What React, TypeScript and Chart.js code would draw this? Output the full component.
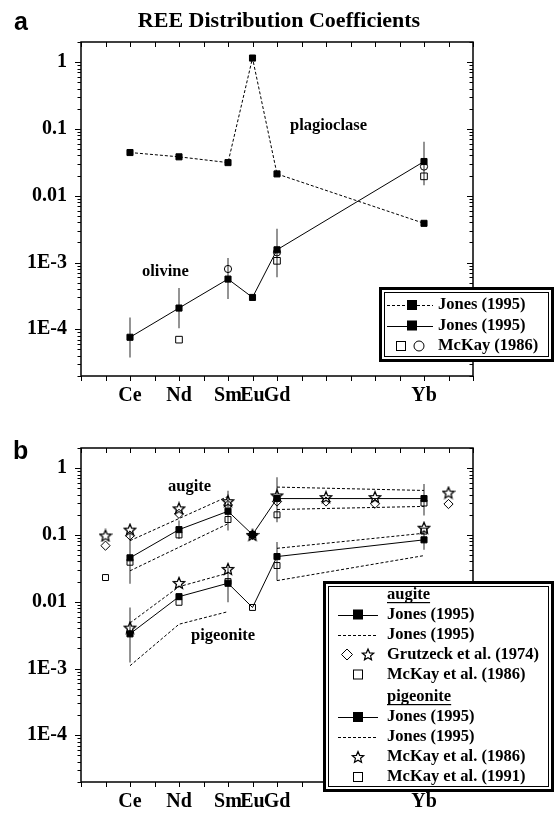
import React, { useEffect, useRef } from 'react';
import { Chart, registerables } from 'chart.js';

Chart.register(...registerables);

// ---- axes ----
// x position = atomic number - 56 (La = 1 ... Lu = 15)
const elementTicks = [2, 4, 6, 7, 8, 14];
const elementLabels = ['Ce', 'Nd', 'Sm', 'Eu', 'Gd', 'Yb'];
const decadeTicks = [1e-4, 1e-3, 1e-2, 1e-1, 1];
const decadeLabels = ['1E-4', '1E-3', '0.01', '0.1', '1'];
const yMin = 2e-5;
const yMax = 2;

// ---- panel a: plagioclase and olivine ----
const plagX = [2, 4, 6, 7, 8, 14];
const plagJones = [0.0443, 0.0382, 0.0313, 1.15, 0.0212, 0.00386];

const olivX = [2, 4, 6, 7, 8, 14];
const olivJones = [7.6e-5, 2.08e-4, 5.65e-4, 3.0e-4, 1.55e-3, 0.0325];
const olivErrLow = [3.8e-5, 1.04e-4, 2.84e-4, null, 6.0e-4, 0.0143];
const olivErrHigh = [1.5e-4, 4.15e-4, 1.17e-3, null, 3.2e-3, 0.064];
const olivMcKaySqX = [4, 8, 14];
const olivMcKaySq = [7.0e-5, 1.06e-3, 0.0195];
const olivMcKayCircX = [6, 8, 14];
const olivMcKayCirc = [8.0e-4, 1.42e-3, 0.0273];

// ---- panel b: augite and pigeonite ----
const augX = [2, 4, 6, 7, 8, 14];
const augJones = [0.0454, 0.12, 0.226, 0.101, 0.35, 0.35];
const augErrLow = [0.0185, 0.087, 0.116, null, 0.155, 0.195];
const augErrHigh = [0.11, 0.165, 0.46, null, 0.73, 0.58];
const augBandX1 = [2, 6];
const augUpper1 = [0.082, 0.377];
const augLower1 = [0.029, 0.147];
const augBandX2 = [8, 14];
const augUpper2 = [0.52, 0.463];
const augLower2 = [0.24, 0.267];
const grutzeckX = [1, 2, 4, 6, 7, 8, 10, 12, 15];
const grutzeckStar = [0.098, 0.12, 0.25, 0.32, 0.1, 0.39, 0.368, 0.368, 0.43];
const grutzeckDiamond = [0.069, 0.098, 0.207, 0.28, 0.1, 0.316, 0.316, 0.293, 0.29];
const augMcKayX = [1, 2, 4, 6, 7, 8, 14];
const augMcKay = [0.023, 0.039, 0.1, 0.17, 0.1, 0.2, 0.3];

const pigX = [2, 4, 6, 7, 8, 14];
const pigJones = [0.0033, 0.0119, 0.0189, 0.0082, 0.0474, 0.0844];
const pigErrLow = [0.00123, null, 0.0098, null, 0.0207, 0.06];
const pigErrHigh = [0.0082, null, 0.033, null, 0.078, 0.115];
const pigBandX1 = [2, 4, 6];
const pigUpper1 = [0.0048, 0.0168, 0.0268];
const pigLower1 = [0.0011, 0.0046, 0.0071];
const pigBandX2 = [8, 14];
const pigUpper2 = [0.063, 0.106];
const pigLower2 = [0.0207, 0.049];
const pigMcKay86X = [2, 4, 6, 14];
const pigMcKay86 = [0.0041, 0.0191, 0.031, 0.128];
const pigMcKay91X = [4, 6, 7, 8, 14];
const pigMcKay91 = [0.0098, 0.02, 0.0082, 0.0348, 0.114];

// ---- styling ----
const SERIF = '"Liberation Serif", "Times New Roman", Times, serif';
const SANS = '"Liberation Sans", Arial, sans-serif';
const W = 554;
const PLOT_LEFT = 81;
const PLOT_RIGHT = 473;
const DASH = [3, 2];

type Pt = { x: number; y: number };
const pts = (xs: number[], ys: (number | null)[]): Pt[] =>
  xs.map((x, i) => ({ x, y: ys[i] as number })).filter((p) => p.y != null);

function starPath(g: CanvasRenderingContext2D, cx: number, cy: number, R: number) {
  const r = R * 0.45;
  g.beginPath();
  for (let i = 0; i < 10; i++) {
    const a = -Math.PI / 2 + (i * Math.PI) / 5;
    const rr = i % 2 ? r : R;
    g.lineTo(cx + rr * Math.cos(a), cy + rr * Math.sin(a));
  }
  g.closePath();
}

function makeStarImage(size: number): HTMLCanvasElement {
  const c = document.createElement('canvas');
  c.width = size;
  c.height = size;
  const g = c.getContext('2d')!;
  g.strokeStyle = '#000';
  g.lineWidth = 1.3;
  starPath(g, size / 2, size / 2 + 0.6, size / 2 - 1);
  g.stroke();
  return c;
}

function lineSet(data: Pt[], opts: any = {}) {
  return {
    type: 'line',
    data,
    borderColor: '#000',
    borderWidth: 1,
    pointBackgroundColor: '#000',
    pointBorderColor: '#000',
    pointBorderWidth: 1,
    pointStyle: 'rect',
    pointRadius: 4.3,
    order: 5,
    clip: false,
    ...opts,
  };
}

function markerSet(data: Pt[], style: any, radius: number, opts: any = {}) {
  return {
    type: 'line',
    data,
    showLine: false,
    pointStyle: style,
    pointRadius: radius,
    pointBackgroundColor: 'rgba(0,0,0,0)',
    pointBorderColor: '#000',
    pointBorderWidth: 1,
    order: 3,
    clip: false,
    ...opts,
  };
}

function errorBars(xs: number[], lo: (number | null)[], hi: (number | null)[]) {
  const out: any[] = [];
  xs.forEach((x, i) => {
    if (lo[i] == null || hi[i] == null) return;
    out.push({
      type: 'line',
      data: [
        { x, y: lo[i] },
        { x, y: hi[i] },
      ],
      borderColor: '#707070',
      borderWidth: 1.5,
      pointRadius: 0,
      order: 20,
      clip: false,
    });
  });
  return out;
}

// frame with tick marks on all four sides
const framePlugin = {
  id: 'frame',
  beforeDatasetsDraw(chart: any) {
    const { ctx, chartArea: a, scales } = chart;
    const xs = scales.x;
    const ys = scales.y;
    ctx.save();
    ctx.strokeStyle = '#000';
    ctx.lineWidth = 1.5;
    ctx.strokeRect(a.left, a.top, a.right - a.left, a.bottom - a.top);
    ctx.lineWidth = 1;
    ctx.beginPath();
    for (let i = 0; i <= 16; i++) {
      const px = Math.round(xs.getPixelForValue(i)) + 0.5;
      ctx.moveTo(px, a.top);
      ctx.lineTo(px, a.top + 5);
      ctx.moveTo(px, a.bottom);
      ctx.lineTo(px, a.bottom + 5);
    }
    for (let k = -5; k <= 0; k++) {
      for (let m = 1; m <= 9; m++) {
        const v = m * Math.pow(10, k);
        if (v < yMin || v > yMax) continue;
        const py = Math.round(ys.getPixelForValue(v)) + 0.5;
        const len = m === 1 ? 6 : 3.5;
        ctx.moveTo(a.left - len, py);
        ctx.lineTo(a.left, py);
        ctx.moveTo(a.right - len, py);
        ctx.lineTo(a.right, py);
      }
    }
    ctx.stroke();
    ctx.restore();
  },
};

function drawSymbol(ctx: CanvasRenderingContext2D, kind: string, x: number, y: number, s: number) {
  ctx.save();
  ctx.strokeStyle = '#000';
  ctx.fillStyle = '#000';
  ctx.lineWidth = 1;
  if (kind === 'fillSq') {
    ctx.fillRect(x - s / 2, y - s / 2, s, s);
  } else if (kind === 'openSq') {
    ctx.strokeRect(x - s / 2 + 0.5, y - s / 2 + 0.5, s - 1, s - 1);
  } else if (kind === 'circle') {
    ctx.beginPath();
    ctx.arc(x, y, s / 2, 0, Math.PI * 2);
    ctx.stroke();
  } else if (kind === 'diamond') {
    ctx.beginPath();
    ctx.moveTo(x - s / 2, y);
    ctx.lineTo(x, y - s / 2);
    ctx.lineTo(x + s / 2, y);
    ctx.lineTo(x, y + s / 2);
    ctx.closePath();
    ctx.stroke();
  } else if (kind === 'star') {
    ctx.lineWidth = 1.2;
    starPath(ctx, x, y + 0.5, s / 2);
    ctx.stroke();
  }
  ctx.restore();
}

function drawLine(ctx: CanvasRenderingContext2D, x1: number, x2: number, y: number, dashed: boolean) {
  ctx.save();
  ctx.strokeStyle = '#000';
  ctx.lineWidth = 1;
  if (dashed) ctx.setLineDash(DASH);
  ctx.beginPath();
  ctx.moveTo(x1, Math.round(y) + 0.5);
  ctx.lineTo(x2, Math.round(y) + 0.5);
  ctx.stroke();
  ctx.restore();
}

function drawLegendBox(ctx: CanvasRenderingContext2D, l: number, t: number, r: number, b: number) {
  ctx.save();
  ctx.fillStyle = '#fff';
  ctx.fillRect(l, t, r - l, b - t);
  ctx.strokeStyle = '#000';
  ctx.lineWidth = 3;
  ctx.strokeRect(l + 1.5, t + 1.5, r - l - 3, b - t - 3);
  ctx.lineWidth = 1;
  ctx.strokeRect(l + 5.5, t + 5.5, r - l - 11, b - t - 11);
  ctx.restore();
}

function text(ctx: CanvasRenderingContext2D, s: string, x: number, y: number, font: string, align: CanvasTextAlign = 'left', baseline: CanvasTextBaseline = 'alphabetic') {
  ctx.save();
  ctx.fillStyle = '#000';
  ctx.font = font;
  ctx.textAlign = align;
  ctx.textBaseline = baseline;
  ctx.fillText(s, x, y);
  ctx.restore();
}

const LEG_FONT = `bold 16.5px ${SERIF}`;
const NOTE_FONT = `bold 16.5px ${SERIF}`;

const decorA = {
  id: 'decorA',
  afterDraw(chart: any) {
    const ctx = chart.ctx as CanvasRenderingContext2D;
    text(ctx, 'REE Distribution Coefficients', 279, 27, `bold 22px ${SERIF}`, 'center');
    text(ctx, 'a', 14, 30, `bold 25px ${SANS}`);
    text(ctx, 'plagioclase', 290, 130, NOTE_FONT);
    text(ctx, 'olivine', 142, 276, NOTE_FONT);

    drawLegendBox(ctx, 379, 287, 554, 362);
    const rows = [305, 325.5, 346];
    drawLine(ctx, 387, 433, rows[0], true);
    drawSymbol(ctx, 'fillSq', 412, rows[0], 10);
    drawLine(ctx, 387, 433, rows[1], false);
    drawSymbol(ctx, 'fillSq', 412, rows[1], 10);
    drawSymbol(ctx, 'openSq', 401, rows[2], 10);
    drawSymbol(ctx, 'circle', 419, rows[2], 10);
    text(ctx, 'Jones (1995)', 438, rows[0], LEG_FONT, 'left', 'middle');
    text(ctx, 'Jones (1995)', 438, rows[1], LEG_FONT, 'left', 'middle');
    text(ctx, 'McKay (1986)', 438, rows[2], LEG_FONT, 'left', 'middle');
  },
};

const OFF_B = 420;
const legendRowsB = [594.5, 614.5, 634.5, 654.5, 674.5, 697, 717, 737, 757, 777];
const decorB = {
  id: 'decorB',
  afterDraw(chart: any) {
    const ctx = chart.ctx as CanvasRenderingContext2D;
    const Y = (y: number) => y - OFF_B;
    const R = legendRowsB.map(Y);
    text(ctx, 'b', 13, Y(459), `bold 25px ${SANS}`);
    text(ctx, 'augite', 168, Y(491), NOTE_FONT);
    text(ctx, 'pigeonite', 191, Y(640), NOTE_FONT);

    drawLegendBox(ctx, 323, Y(581), 554, Y(792));
    const tx = 387;
    const header = (s: string, y: number) => {
      text(ctx, s, tx, y, LEG_FONT, 'left', 'middle');
      ctx.save();
      ctx.font = LEG_FONT;
      const w = ctx.measureText(s).width;
      ctx.fillStyle = '#000';
      ctx.fillRect(tx, Math.round(y) + 7, w, 1.2);
      ctx.restore();
    };
    header('augite', R[0]);
    drawLine(ctx, 338, 378, R[1], false);
    drawSymbol(ctx, 'fillSq', 358, R[1], 10);
    text(ctx, 'Jones (1995)', tx, R[1], LEG_FONT, 'left', 'middle');
    drawLine(ctx, 338, 378, R[2], true);
    text(ctx, 'Jones (1995)', tx, R[2], LEG_FONT, 'left', 'middle');
    drawSymbol(ctx, 'diamond', 347, R[3], 11);
    drawSymbol(ctx, 'star', 368, R[3], 12);
    text(ctx, 'Grutzeck et al. (1974)', tx, R[3], LEG_FONT, 'left', 'middle');
    drawSymbol(ctx, 'openSq', 358, R[4], 10);
    text(ctx, 'McKay et al. (1986)', tx, R[4], LEG_FONT, 'left', 'middle');
    header('pigeonite', R[5]);
    drawLine(ctx, 338, 378, R[6], false);
    drawSymbol(ctx, 'fillSq', 358, R[6], 10);
    text(ctx, 'Jones (1995)', tx, R[6], LEG_FONT, 'left', 'middle');
    drawLine(ctx, 338, 378, R[7], true);
    text(ctx, 'Jones (1995)', tx, R[7], LEG_FONT, 'left', 'middle');
    drawSymbol(ctx, 'star', 358, R[8], 12);
    text(ctx, 'McKay et al. (1986)', tx, R[8], LEG_FONT, 'left', 'middle');
    drawSymbol(ctx, 'openSq', 358, R[9], 10);
    text(ctx, 'McKay et al. (1991)', tx, R[9], LEG_FONT, 'left', 'middle');
  },
};

function baseOptions(canvasH: number, top: number, bottom: number) {
  const tickFont = { family: SERIF, size: 20, weight: 'bold' as const };
  return {
    animation: false,
    responsive: false,
    events: [],
    layout: { padding: { top, right: W - PLOT_RIGHT, left: 0, bottom: 0 } },
    plugins: {
      legend: { display: false },
      tooltip: { enabled: false },
      title: { display: false },
    },
    scales: {
      x: {
        type: 'linear',
        min: 0,
        max: 16,
        position: 'bottom',
        afterFit: (s: any) => {
          s.height = canvasH - bottom;
        },
        afterBuildTicks: (s: any) => {
          s.ticks = elementTicks.map((v) => ({ value: v }));
        },
        ticks: {
          autoSkip: false,
          maxRotation: 0,
          padding: 8,
          color: '#000',
          font: tickFont,
          callback: (v: number) => {
            const i = elementTicks.indexOf(v);
            return i >= 0 ? elementLabels[i] : '';
          },
        },
        grid: { display: false, drawTicks: false },
        border: { display: false },
      },
      y: {
        type: 'logarithmic',
        min: yMin,
        max: yMax,
        position: 'left',
        afterFit: (s: any) => {
          s.width = PLOT_LEFT;
        },
        afterBuildTicks: (s: any) => {
          s.ticks = decadeTicks.map((v) => ({ value: v, major: true }));
        },
        ticks: {
          padding: 14,
          color: '#000',
          font: tickFont,
          callback: (v: number) => {
            const i = decadeTicks.findIndex((d) => Math.abs(d - v) / d < 1e-6);
            return i >= 0 ? decadeLabels[i] : '';
          },
        },
        grid: { display: false, drawTicks: false },
        border: { display: false },
      },
    },
  };
}

function buildA(h: number) {
  const datasets: any[] = [
    lineSet(pts(plagX, plagJones), { borderDash: DASH }),
    lineSet(pts(olivX, olivJones)),
    markerSet(pts(olivMcKaySqX, olivMcKaySq), 'rect', 4.7),
    markerSet(pts(olivMcKayCircX, olivMcKayCirc), 'circle', 3.6),
    ...errorBars(olivX, olivErrLow, olivErrHigh),
  ];
  return {
    type: 'line',
    data: { datasets },
    options: baseOptions(h, 42, 376),
    plugins: [framePlugin, decorA],
  };
}

function buildB(h: number) {
  const star = makeStarImage(14);
  const dashed = (xs: number[], ys: number[]) =>
    lineSet(pts(xs, ys), { borderDash: DASH, pointRadius: 0, order: 8 });
  const datasets: any[] = [
    lineSet(pts(augX, augJones)),
    lineSet(pts(pigX, pigJones), { pointRadius: pigX.map((x) => (x === 7 ? 0 : 4.3)) }),
    dashed(augBandX1, augUpper1),
    dashed(augBandX1, augLower1),
    dashed(augBandX2, augUpper2),
    dashed(augBandX2, augLower2),
    dashed(pigBandX1, pigUpper1),
    dashed(pigBandX1, pigLower1),
    dashed(pigBandX2, pigUpper2),
    dashed(pigBandX2, pigLower2),
    markerSet(pts(grutzeckX, grutzeckStar), star, 6),
    markerSet(pts(grutzeckX, grutzeckDiamond), 'rectRot', 4.6),
    markerSet(pts(augMcKayX, augMcKay), 'rect', 4.2),
    markerSet(pts(pigMcKay86X, pigMcKay86), star, 6),
    markerSet(pts(pigMcKay91X, pigMcKay91), 'rect', 4.2),
    ...errorBars(augX, augErrLow, augErrHigh),
    ...errorBars(pigX, pigErrLow, pigErrHigh),
  ];
  return {
    type: 'line',
    data: { datasets },
    options: baseOptions(h, 448 - OFF_B, 782 - OFF_B),
    plugins: [framePlugin, decorB],
  };
}

function Panel({ top, height, build }: { top: number; height: number; build: (h: number) => any }) {
  const ref = useRef<HTMLCanvasElement>(null);
  useEffect(() => {
    const chart = new Chart(ref.current as HTMLCanvasElement, build(height));
    return () => chart.destroy();
  }, []);
  return (
    <canvas
      ref={ref}
      width={W}
      height={height}
      style={{ position: 'absolute', left: 0, top, width: W, height, display: 'block' }}
    />
  );
}

export default function App() {
  return (
    <div style={{ position: 'absolute', left: 0, top: 0, width: W, height: 814, background: '#fff' }}>
      <Panel top={0} height={OFF_B} build={buildA} />
      <Panel top={OFF_B} height={814 - OFF_B} build={buildB} />
    </div>
  );
}
